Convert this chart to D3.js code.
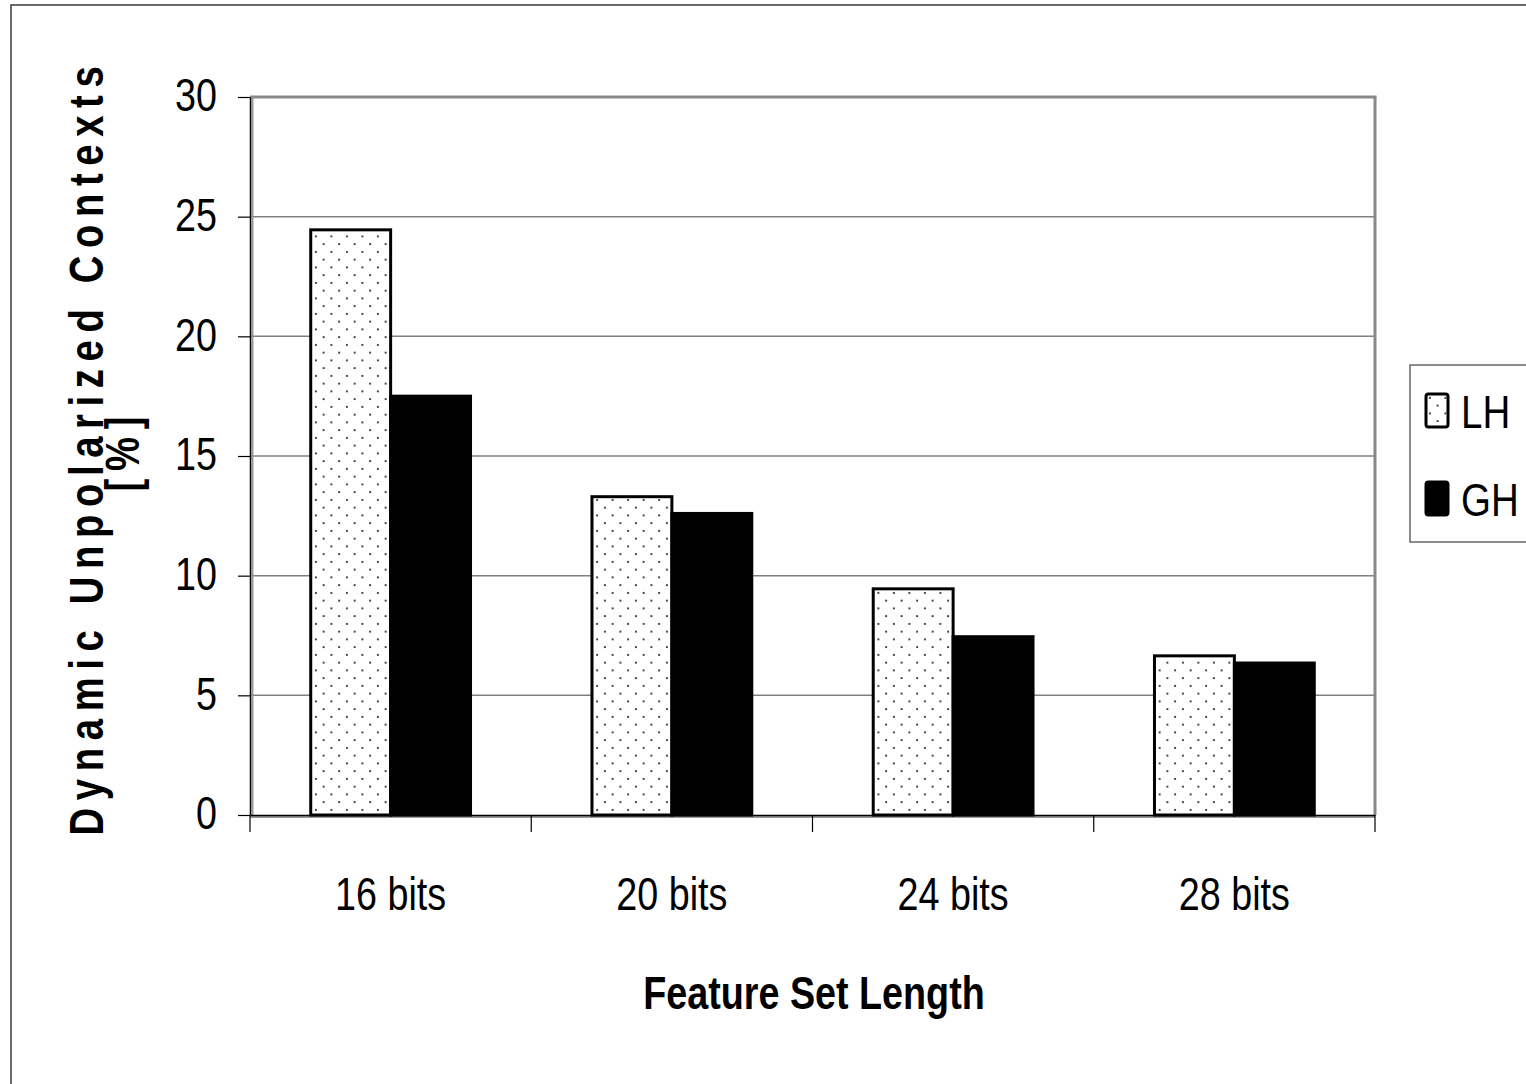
<!DOCTYPE html>
<html><head><meta charset="utf-8">
<script src="https://cdn.jsdelivr.net/npm/d3@7"></script>
<style>
html,body{margin:0;padding:0;background:#fff;}
svg text{font-family:"Liberation Sans","Arial",sans-serif;fill:#000;}
</style></head>
<body>
<svg id="chart" width="1526" height="1084"></svg>
<script>
const categories = ["16 bits", "20 bits", "24 bits", "28 bits"];
const seriesNames = ["LH", "GH"];
const lhValues = [24.45, 13.3, 9.45, 6.65];
const ghValues = [17.5, 12.6, 7.45, 6.35];
const yTicks = [0, 5, 10, 15, 20, 25, 30];

(function(){
const svg = d3.select("#chart");
const pLeft = 250, pRight = 1375, pTop = 97, pBottom = 815;
const NX = 0.82; // horizontal condensing to emulate a narrow face

// pattern
const defs = svg.append("defs");
const pat = defs.append("pattern").attr("id","dots").attr("patternUnits","userSpaceOnUse")
  .attr("width",15.5).attr("height",15.5).attr("x",0).attr("y",0);
pat.append("rect").attr("width",15.5).attr("height",15.5).attr("fill","#fff");
pat.append("rect").attr("x",3).attr("y",3).attr("width",1.8).attr("height",1.8).attr("fill","#222");
pat.append("rect").attr("x",10.75).attr("y",10.75).attr("width",1.8).attr("height",1.8).attr("fill","#222");

// outer frame
svg.append("rect").attr("x",11).attr("y",5).attr("width",1530).attr("height",1200)
  .attr("fill","none").attr("stroke","#444").attr("stroke-width",1.6);

const x = d3.scaleBand().domain(categories).range([pLeft,pRight]).padding(0);
const xi = d3.scaleBand().domain(seriesNames).range([0,x.bandwidth()]).paddingInner(0).paddingOuter(0.76);
const y = d3.scaleLinear().domain([0,30]).range([pBottom,pTop]);

// gridlines
svg.append("g").selectAll("line").data(yTicks.filter(d=>d>0 && d<30)).join("line")
  .attr("x1",pLeft).attr("x2",pRight).attr("y1",d=>y(d)).attr("y2",d=>y(d))
  .attr("stroke","#808080").attr("stroke-width",1.5);

// plot border (top & right gray)
svg.append("line").attr("x1",pLeft).attr("x2",pRight+1.5).attr("y1",pTop).attr("y2",pTop)
  .attr("stroke","#888").attr("stroke-width",3);
svg.append("line").attr("x1",pRight).attr("x2",pRight).attr("y1",pTop).attr("y2",pBottom)
  .attr("stroke","#888").attr("stroke-width",3);
svg.append("line").attr("x1",pLeft+2.5).attr("x2",pLeft+2.5).attr("y1",pTop).attr("y2",pBottom)
  .attr("stroke","#999").attr("stroke-width",2);
svg.append("line").attr("x1",pLeft).attr("x2",pRight).attr("y1",pBottom+2).attr("y2",pBottom+2)
  .attr("stroke","#999").attr("stroke-width",2);

// bars
const data = categories.map((c,i)=>({c, vals:[{s:"LH",v:lhValues[i]},{s:"GH",v:ghValues[i]}]}));
const g = svg.append("g").selectAll("g").data(data).join("g").attr("transform",d=>`translate(${x(d.c)},0)`);
g.selectAll("rect").data(d=>d.vals).join("rect")
  .attr("x",d=>xi(d.s)).attr("width",xi.bandwidth())
  .attr("y",d=>y(d.v)).attr("height",d=>y(0)-y(d.v))
  .attr("fill",d=>d.s==="LH"?"url(#dots)":"#000")
  .attr("stroke","#000").attr("stroke-width",3);

// y axis
const yAxis = d3.axisLeft(y).tickValues(yTicks).tickSize(12).tickPadding(22).tickSizeOuter(0);
const ya = svg.append("g").attr("transform",`translate(${pLeft},0)`).call(yAxis);
ya.select(".domain").attr("stroke","#000").attr("stroke-width",1.5);
ya.selectAll(".tick line").attr("stroke","#000").attr("stroke-width",1.2);
ya.selectAll(".tick text").attr("font-size",46).attr("font-family",null)
  .attr("x",-33/NX).attr("dy","0.3em").attr("transform",`scale(${NX},1)`);

// x axis
const xAxis = d3.axisBottom(x).tickSize(0).tickPadding(0).tickSizeOuter(0);
const xa = svg.append("g").attr("transform",`translate(0,${pBottom})`).call(xAxis);
xa.select(".domain").attr("stroke","#000").attr("stroke-width",1.5);
xa.selectAll(".tick text").attr("font-size",46).attr("font-family",null)
  .attr("y",95).attr("dy",0).attr("transform",`scale(${NX},1)`);
// category boundary ticks
const bounds = categories.map(c=>x(c)).concat([pRight]);
xa.append("g").selectAll("line").data(bounds).join("line")
  .attr("x1",d=>d).attr("x2",d=>d)
  .attr("y1",0).attr("y2",17).attr("stroke","#000").attr("stroke-width",1.2);

// axis titles
svg.append("text").attr("transform",`translate(814,1009) scale(${NX},1)`).attr("text-anchor","middle")
  .attr("font-size",46).attr("font-weight","bold").text("Feature Set Length");
const yt = svg.append("text").attr("transform",`translate(0,447) rotate(-90) scale(0.78,1)`)
  .attr("text-anchor","middle").attr("font-size",49).attr("font-weight","bold");
yt.append("tspan").attr("x",0).attr("y",103).attr("letter-spacing","9.8px").text("Dynamic Unpolarized Contexts");
yt.append("tspan").attr("x",-4).attr("y",139).attr("letter-spacing","10px").text("[%]");

// legend
svg.append("rect").attr("x",1410).attr("y",365).attr("width",130).attr("height",177)
  .attr("fill","#fff").attr("stroke","#666").attr("stroke-width",1.5);
const leg = svg.append("g").selectAll("g").data(seriesNames).join("g")
  .attr("transform",(d,i)=>`translate(1426,${394+i*88})`);
leg.append("rect").attr("width",22).attr("height",33)
  .attr("fill",d=>d==="LH"?"url(#dots)":"#000").attr("stroke","#000").attr("stroke-width",3).attr("rx",2.5);
leg.append("text").attr("transform",`translate(35,34) scale(${NX},1)`).attr("font-size",47).text(d=>d);
})();
</script>
</body></html>
